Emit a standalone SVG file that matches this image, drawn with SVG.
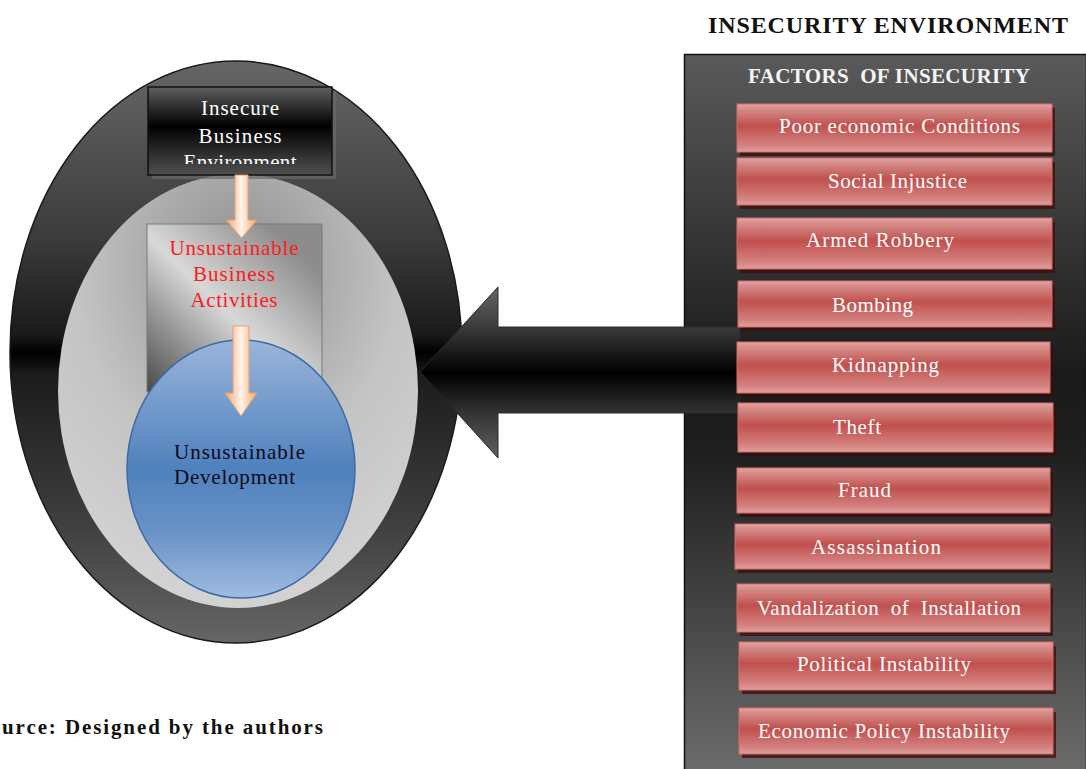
<svg xmlns="http://www.w3.org/2000/svg" width="1086" height="769" viewBox="0 0 1086 769">
<style>
.serif{font-family:"Liberation Serif","Times New Roman",serif}
.wt{fill:#ffffff;font-size:21px;font-family:"Liberation Serif","Times New Roman",serif}
.rt{fill:#ff1a1a;font-size:21px;font-family:"Liberation Serif","Times New Roman",serif}
.bt{fill:#0a0a1a;font-size:21px;font-family:"Liberation Serif","Times New Roman",serif}
.fbox{fill:url(#redg);stroke:#d86a67;stroke-width:1}
.fsh{fill:#3a0e0e;opacity:0.75}
.fl{fill:#ffffff;font-size:21px;font-family:"Liberation Serif","Times New Roman",serif}
</style>
<defs>
<linearGradient id="outerg" x1="0" y1="0" x2="0" y2="1">
<stop offset="0" stop-color="#666666"/>
<stop offset="0.3" stop-color="#3c3c3c"/>
<stop offset="0.47" stop-color="#1a1a1a"/>
<stop offset="0.5" stop-color="#000000"/>
<stop offset="0.54" stop-color="#1c1c1c"/>
<stop offset="0.8" stop-color="#404040"/>
<stop offset="1" stop-color="#666666"/>
</linearGradient>
<radialGradient id="innerg" cx="0.5" cy="0.22" r="0.75">
<stop offset="0" stop-color="#8e8e8e"/>
<stop offset="0.6" stop-color="#c4c4c4"/>
<stop offset="1" stop-color="#d2d2d2"/>
</radialGradient>
<linearGradient id="blackg" x1="0" y1="0" x2="0" y2="1">
<stop offset="0" stop-color="#5e5e5e"/>
<stop offset="0.45" stop-color="#000000"/>
<stop offset="0.55" stop-color="#101010"/>
<stop offset="1" stop-color="#505050"/>
</linearGradient>
<linearGradient id="grayg" x1="0" y1="1" x2="0.85" y2="0.15">
<stop offset="0" stop-color="#484848"/>
<stop offset="0.55" stop-color="#d8d8d8"/>
<stop offset="1" stop-color="#8c8c8c"/>
</linearGradient>
<linearGradient id="blueg" x1="0" y1="0" x2="0" y2="1">
<stop offset="0" stop-color="#9ab5da"/>
<stop offset="0.5" stop-color="#4f81bd"/>
<stop offset="0.75" stop-color="#6a93c8"/>
<stop offset="1" stop-color="#a0bce0"/>
</linearGradient>
<linearGradient id="peachg" x1="0" y1="0" x2="1" y2="0">
<stop offset="0" stop-color="#f0a46c"/>
<stop offset="0.5" stop-color="#fff3ea"/>
<stop offset="1" stop-color="#f0a46c"/>
</linearGradient>
<linearGradient id="panelg" x1="0" y1="54" x2="0" y2="769" gradientUnits="userSpaceOnUse">
<stop offset="0" stop-color="#5a5a5a"/>
<stop offset="0.45" stop-color="#1a1a1a"/>
<stop offset="0.55" stop-color="#1e1e1e"/>
<stop offset="1" stop-color="#6a6a6a"/>
</linearGradient>
<linearGradient id="bigg" x1="0" y1="287" x2="0" y2="458" gradientUnits="userSpaceOnUse">
<stop offset="0" stop-color="#666666"/>
<stop offset="0.24" stop-color="#3a3a3a"/>
<stop offset="0.5" stop-color="#000000"/>
<stop offset="0.56" stop-color="#0c0c0c"/>
<stop offset="0.76" stop-color="#383838"/>
<stop offset="1" stop-color="#606060"/>
</linearGradient>
<linearGradient id="redg" x1="0" y1="0" x2="0" y2="1">
<stop offset="0" stop-color="#e6a4a2"/>
<stop offset="0.1" stop-color="#d68e8c"/>
<stop offset="0.45" stop-color="#c0504d"/>
<stop offset="0.85" stop-color="#d3807e"/>
<stop offset="1" stop-color="#e0a09e"/>
</linearGradient>
<clipPath id="envclip"><rect x="148" y="86" width="184" height="78"/></clipPath>
</defs>

<rect width="1086" height="769" fill="#ffffff"/>

<g id="outer-ellipse">
<ellipse cx="236" cy="352" rx="226" ry="291" fill="url(#outerg)" stroke="#1a1a1a" stroke-width="1.5"/>
</g>
<g id="inner-ellipse">
<ellipse cx="238" cy="391" rx="180" ry="217" fill="url(#innerg)"/>
</g>

<g id="insecure-business-environment">
<rect x="152" y="91" width="184" height="88" fill="#6a6a6a" opacity="0.7"/>
<rect x="148" y="87" width="184" height="88" fill="url(#blackg)" stroke="#111" stroke-width="1.5"/>
<text class="wt" x="240" y="115" text-anchor="middle" textLength="78" lengthAdjust="spacing">Insecure</text>
<text class="wt" x="240" y="143" text-anchor="middle" textLength="83" lengthAdjust="spacing">Business</text>
<text class="wt" x="240" y="169" text-anchor="middle" textLength="113" lengthAdjust="spacing" clip-path="url(#envclip)">Environment</text>
</g>

<g id="unsustainable-business-activities">
<rect x="147" y="224" width="175" height="168" fill="url(#grayg)" stroke="#7a7a7a" stroke-width="1"/>
<text class="rt" x="234" y="255" text-anchor="middle" textLength="129" lengthAdjust="spacing">Unsustainable</text>
<text class="rt" x="234" y="281" text-anchor="middle" textLength="82" lengthAdjust="spacing">Business</text>
<text class="rt" x="234" y="307" text-anchor="middle" textLength="87" lengthAdjust="spacing">Activities</text>
</g>

<g id="unsustainable-development">
<ellipse cx="241" cy="469" rx="114" ry="129" fill="url(#blueg)" stroke="#3d6aa6" stroke-width="1.5"/>
<text class="bt" x="174" y="459" textLength="131" lengthAdjust="spacing">Unsustainable</text>
<text class="bt" x="174" y="484" textLength="121" lengthAdjust="spacing">Development</text>
</g>

<g id="insecurity-environment">
<text class="serif" x="708" y="33" font-size="24" font-weight="bold" fill="#111" textLength="360" lengthAdjust="spacing">INSECURITY ENVIRONMENT</text>
<rect x="684.5" y="54.5" width="402" height="716" fill="url(#panelg)" stroke="#111" stroke-width="1.5"/>
<text class="serif" x="748" y="83" font-size="21" font-weight="bold" fill="#f4f4f4" textLength="282" lengthAdjust="spacing" xml:space="preserve">FACTORS  OF INSECURITY</text>
</g>

<g id="connectors">
<path d="M235 175 H248 V220 H257 L241.5 238 L226 220 H235 Z" fill="url(#peachg)" stroke="#e3a070" stroke-width="1"/>
<path d="M233 326 H249 V393 H257 L241 416 L225 393 H233 Z" fill="url(#peachg)" stroke="#e3a070" stroke-width="1"/>
<path d="M420 372 L498 287 V327 H740 V413 H498 V458 Z" fill="url(#bigg)" stroke="#2a2a2a" stroke-width="1"/>
</g>

<g id="factor-1">
<rect class="fsh" x="740" y="108" width="315" height="48"/>
<rect class="fbox" x="737" y="104" width="315" height="48"/>
<text class="fl" x="779" y="133" textLength="241" lengthAdjust="spacing">Poor economic Conditions</text>
</g>
<g id="factor-2">
<rect class="fsh" x="740" y="162" width="315" height="47"/>
<rect class="fbox" x="737" y="158" width="315" height="47"/>
<text class="fl" x="828" y="188" textLength="139" lengthAdjust="spacing">Social Injustice</text>
</g>
<g id="factor-3">
<rect class="fsh" x="740" y="222" width="315" height="51"/>
<rect class="fbox" x="737" y="218" width="315" height="51"/>
<text class="fl" x="806" y="247" textLength="148" lengthAdjust="spacing">Armed Robbery</text>
</g>
<g id="factor-4">
<rect class="fsh" x="741" y="285" width="314" height="46"/>
<rect class="fbox" x="738" y="281" width="314" height="46"/>
<text class="fl" x="832" y="312" textLength="81" lengthAdjust="spacing">Bombing</text>
</g>
<g id="factor-5">
<rect class="fsh" x="740" y="346" width="313" height="51"/>
<rect class="fbox" x="737" y="342" width="313" height="51"/>
<text class="fl" x="832" y="372" textLength="107" lengthAdjust="spacing">Kidnapping</text>
</g>
<g id="factor-6">
<rect class="fsh" x="741" y="407" width="315" height="49"/>
<rect class="fbox" x="738" y="403" width="315" height="49"/>
<text class="fl" x="833" y="434" textLength="48" lengthAdjust="spacing">Theft</text>
</g>
<g id="factor-7">
<rect class="fsh" x="740" y="472" width="313" height="45"/>
<rect class="fbox" x="737" y="468" width="313" height="45"/>
<text class="fl" x="838" y="497" textLength="53" lengthAdjust="spacing">Fraud</text>
</g>
<g id="factor-8">
<rect class="fsh" x="738" y="528" width="315" height="45"/>
<rect class="fbox" x="735" y="524" width="315" height="45"/>
<text class="fl" x="811" y="554" textLength="130" lengthAdjust="spacing">Assassination</text>
</g>
<g id="factor-9">
<rect class="fsh" x="740" y="588" width="313" height="48"/>
<rect class="fbox" x="737" y="584" width="313" height="48"/>
<text class="fl" x="757" y="615" textLength="264" lengthAdjust="spacing" xml:space="preserve">Vandalization  of  Installation</text>
</g>
<g id="factor-10">
<rect class="fsh" x="742" y="646" width="314" height="48"/>
<rect class="fbox" x="739" y="642" width="314" height="48"/>
<text class="fl" x="797" y="671" textLength="174" lengthAdjust="spacing">Political Instability</text>
</g>
<g id="factor-11">
<rect class="fsh" x="742" y="712" width="314" height="46"/>
<rect class="fbox" x="739" y="708" width="314" height="46"/>
<text class="fl" x="758" y="738" textLength="252" lengthAdjust="spacing">Economic Policy Instability</text>
</g>

<g id="source-note">
<text class="serif" x="2" y="734" font-size="21" font-weight="bold" fill="#111" textLength="321" lengthAdjust="spacing">urce: Designed by the authors</text>
</g>
</svg>
